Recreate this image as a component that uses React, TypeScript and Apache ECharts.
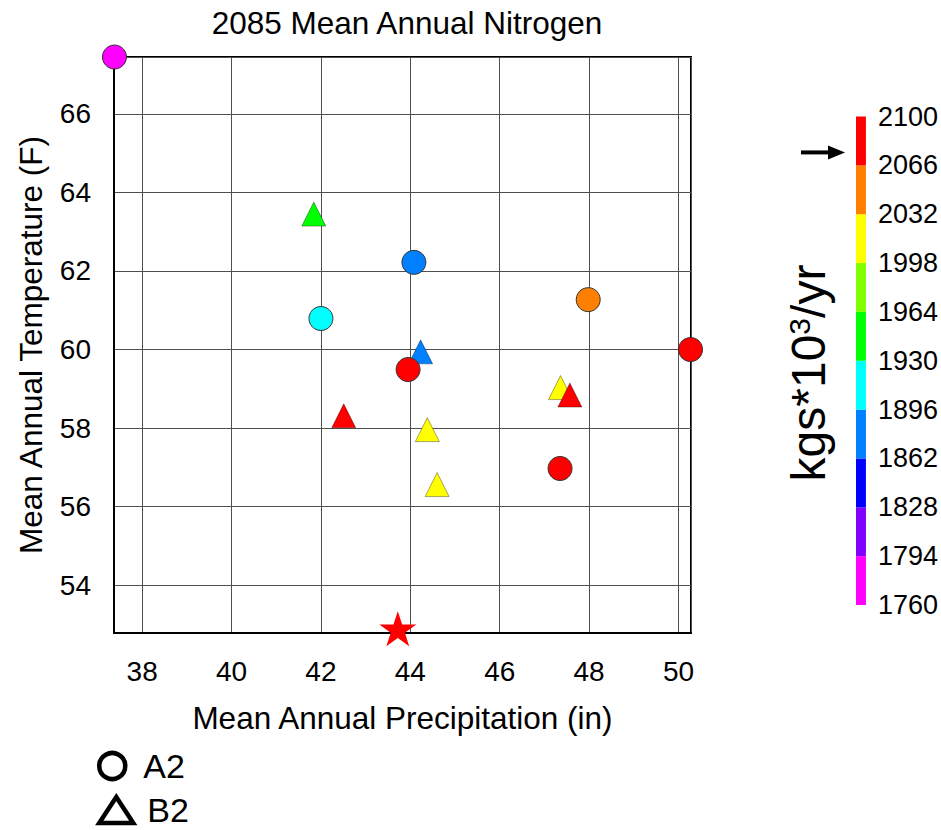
import React, { useEffect, useRef } from 'react';
import * as echarts from 'echarts';

// ---- data ----
const a2Precip = [37.38, 44.08, 42.0, 43.95, 47.98, 50.27, 47.35];
const a2Temp = [67.45, 62.22, 60.79, 59.49, 61.27, 60.0, 56.97];
const a2Nitrogen = [1777, 1879, 1913, 2083, 2049, 2083, 2083];

const b2Precip = [41.84, 44.23, 42.51, 44.38, 44.6, 47.36, 47.57];
const b2Temp = [63.45, 59.94, 58.31, 57.96, 56.56, 59.03, 58.84];
const b2Nitrogen = [1947, 1879, 2083, 2015, 2015, 2015, 2083];

const obsPrecip = [43.72];
const obsTemp = [52.89];
const obsNitrogen = [2083];

const binStarts = [1760, 1794, 1828, 1862, 1896, 1930, 1964, 1998, 2032, 2066];
const binStep = 34;
const binColors = ['#ff00ff', '#8000ff', '#0000ff', '#0080ff', '#00ffff', '#00ff00', '#80ff00', '#ffff00', '#ff8000', '#ff0000'];
const arrowValue = 2075;

const xRange = [37.37, 50.28];
const yRange = [52.78, 67.45];

const FONT = '"Liberation Sans", Arial, Helvetica, sans-serif';
const STAR = 'path://M50,0 L61.23,34.55 L97.55,34.55 L68.17,55.9 L79.39,90.45 L50,69.1 L20.61,90.45 L31.83,55.9 L2.45,34.55 L38.77,34.55 Z';

export default function App() {
  const ref = useRef<HTMLDivElement>(null);
  useEffect(() => {
    if (!ref.current) return;
    const chart = echarts.init(ref.current, null, { renderer: 'svg' });
    const zip = (xs: number[], ys: number[], ns: number[]) => xs.map((x, i) => [x, ys[i], ns[i]]);
    const barData = binStarts.map((b) => [0, b, b + binStep / 2, b + binStep]);
    const intLabel = (v: number) => (Math.abs(v - Math.round(v)) < 1e-6 ? String(Math.round(v)) : '');
    const legendBase = {
      left: 97, padding: 0, itemWidth: 34, itemHeight: 26, selectedMode: false,
      textStyle: { fontFamily: FONT, fontSize: 34, color: '#000', padding: [0, 0, 0, 9] },
    };
    const legendIcon = { color: 'rgba(255,255,255,0)', borderColor: '#000', borderWidth: 4.5 };

    const option: any = {
      animation: false,
      textStyle: { fontFamily: FONT },
      title: {
        text: '2085 Mean Annual Nitrogen',
        left: 402,
        textAlign: 'center',
        top: 2,
        textStyle: { fontFamily: FONT, fontSize: 31.5, fontWeight: 'normal', color: '#000' },
      },
      grid: [
        { left: 114, top: 57, width: 577, height: 576, show: true, borderColor: '#000', borderWidth: 2, backgroundColor: 'transparent' },
        { left: 856, top: 116.5, width: 12, height: 488.5 },
      ],
      xAxis: [
        {
          type: 'value', gridIndex: 0, min: xRange[0], max: xRange[1], splitNumber: 6, minInterval: 2, maxInterval: 2,
          name: 'Mean Annual Precipitation (in)', nameLocation: 'middle', nameGap: 69,
          nameTextStyle: { fontFamily: FONT, fontSize: 31.5, color: '#000' },
          axisLine: { show: true, lineStyle: { color: '#000', width: 2 } },
          axisTick: { show: false },
          axisLabel: { fontFamily: FONT, fontSize: 28, color: '#000', margin: 24, formatter: intLabel, showMinLabel: false, showMaxLabel: false },
          splitLine: { show: true, lineStyle: { color: '#505050', width: 1 } },
        },
        { type: 'category', gridIndex: 1, data: ['bar'], show: false },
      ],
      yAxis: [
        {
          type: 'value', gridIndex: 0, min: yRange[0], max: yRange[1], splitNumber: 6, minInterval: 2, maxInterval: 2,
          name: 'Mean Annual Temperature (F)', nameLocation: 'middle', nameGap: 67,
          nameTextStyle: { fontFamily: FONT, fontSize: 31.5, color: '#000' },
          axisLine: { show: true, lineStyle: { color: '#000', width: 2 } },
          axisTick: { show: false },
          axisLabel: { fontFamily: FONT, fontSize: 28, color: '#000', margin: 23, formatter: intLabel, showMinLabel: false, showMaxLabel: false },
          splitLine: { show: true, lineStyle: { color: '#505050', width: 1 } },
        },
        {
          type: 'value', gridIndex: 1, min: 1760, max: 2100, interval: binStep, position: 'right',
          axisLine: { show: false }, axisTick: { show: false }, splitLine: { show: false },
          axisLabel: { fontFamily: FONT, fontSize: 27, color: '#000', margin: 12, formatter: (v: number) => String(Math.round(v)) },
        },
      ],
      visualMap: {
        type: 'piecewise', show: false, dimension: 2, seriesIndex: [0, 1, 2, 3],
        pieces: binStarts.map((b, i) => (i === binStarts.length - 1
          ? { gte: b, lte: b + binStep, color: binColors[i] }
          : { gte: b, lt: b + binStep, color: binColors[i] })),
      },
      legend: [
        { ...legendBase, top: 749, data: [{ name: 'A2', icon: 'circle', itemStyle: legendIcon }] },
        { ...legendBase, top: 793, data: [{ name: 'B2', icon: 'triangle', itemStyle: legendIcon }] },
      ],
      series: [
        {
          name: 'B2', type: 'scatter', xAxisIndex: 0, yAxisIndex: 0, symbol: 'triangle', symbolSize: 24, clip: false,
          itemStyle: { borderColor: 'rgba(0,0,0,0.35)', borderWidth: 1, opacity: 1 },
          data: zip(b2Precip, b2Temp, b2Nitrogen),
        },
        {
          name: 'A2', type: 'scatter', xAxisIndex: 0, yAxisIndex: 0, symbol: 'circle', symbolSize: 24, clip: false,
          itemStyle: { borderColor: '#333', borderWidth: 1, opacity: 1 },
          data: zip(a2Precip, a2Temp, a2Nitrogen),
        },
        {
          name: 'Observed', type: 'scatter', xAxisIndex: 0, yAxisIndex: 0, symbol: STAR, symbolSize: [37, 35], clip: false,
          itemStyle: { opacity: 1 },
          data: zip(obsPrecip, obsTemp, obsNitrogen),
        },
        {
          name: 'colorbar', type: 'custom', xAxisIndex: 1, yAxisIndex: 1, silent: true,
          encode: { x: 0, y: [1, 3] },
          renderItem: (params: any, api: any) => {
            const lo = api.coord([0, api.value(1)]);
            const hi = api.coord([0, api.value(3)]);
            const cs = params.coordSys;
            return {
              type: 'rect',
              shape: { x: cs.x, y: hi[1], width: cs.width, height: lo[1] - hi[1] },
              style: { fill: api.visual('color') },
            };
          },
          data: barData,
        },
      ],
    };
    chart.setOption(option);

    const ay = chart.convertToPixel({ yAxisIndex: 1 }, arrowValue) as number;
    chart.setOption({
      graphic: [
        {
          type: 'text', x: 808, y: 373, rotation: Math.PI / 2,
          style: {
            text: 'kgs*10{sup|3}/yr', fill: '#000', fontFamily: FONT, fontSize: 48,
            align: 'center', verticalAlign: 'middle',
            rich: { sup: { fontFamily: FONT, fontSize: 30, verticalAlign: 'top', fill: '#000' } },
          },
        },
        { type: 'line', shape: { x1: 801, y1: ay, x2: 831, y2: ay }, style: { stroke: '#000', lineWidth: 4 } },
        { type: 'polygon', shape: { points: [[828, ay - 7], [845, ay], [828, ay + 7]] }, style: { fill: '#000' } },
      ],
    });
    return () => chart.dispose();
  }, []);
  return <div ref={ref} style={{ position: 'absolute', left: 0, top: 0, width: 941, height: 830 }} />;
}
